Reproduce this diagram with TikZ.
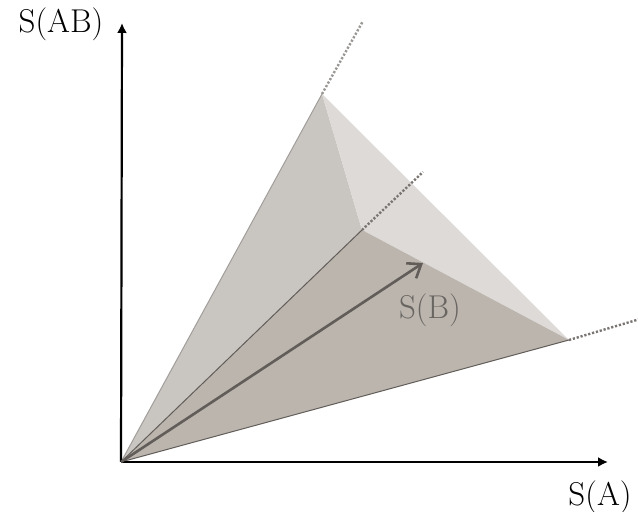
\documentclass[tikz,border=0pt]{standalone}
\usepackage{xcolor}
\usepackage{tikz}
\usetikzlibrary{arrows.meta}
\definecolor{faceleft}{RGB}{201,197,193}
\definecolor{facetop}{RGB}{221,218,215}
\definecolor{facelow}{RGB}{187,181,174}
\definecolor{edgegray}{RGB}{98,93,89}
\definecolor{labelgray}{RGB}{105,101,97}

\begin{document}
\begin{tikzpicture}[x=0.5pt,y=-0.5pt,
  axis/.style={-{Latex[length=5pt,width=5pt]},line width=1.1pt,black},
  edge/.style={line width=0.5pt,draw=edgegray},
  ray/.style={dash pattern=on 1.1pt off 0.9pt,line width=1.2pt,draw=edgegray!85},
  vec/.style={-{Straight Barb[length=6pt,width=9pt]},line width=1.3pt,draw=edgegray},
  lbl/.style={font=\fontsize{16.5}{19}\selectfont,inner sep=0pt}]
  \useasboundingbox (0,0) rectangle (638,512);
  % cone corners
  \coordinate (o) at (121,462);
  \coordinate (t) at (322,94);
  \coordinate (m) at (362,230);
  \coordinate (r) at (569,340);
  \coordinate (tx) at (363,21);
  \coordinate (mx) at (423,172);
  \coordinate (rx) at (640,319);
  \coordinate (b) at (423,263);
  % faces
  \fill[faceleft] (o)--(t)--(m)--cycle;
  \fill[facetop] (t)--(r)--(m)--cycle;
  \fill[facelow] (o)--(m)--(r)--cycle;
  \draw[edge,draw=edgegray!60] (o)--(t);
  \draw[edge] (o)--(m);
  \draw[edge] (o)--(r);
  \draw[ray,draw=edgegray!65] (t)--(tx);
  \draw[ray] (m)--(mx);
  \draw[ray] (r)--(rx);
  % axes
  \node[lbl] (sab) at (61,24) {S(AB)};
  \node[lbl] (sa) at (600,497) {S(A)};
  \coordinate (ya) at (122,23);
  \coordinate (xa) at (608,462);
  \draw[axis] (o)--(ya);
  \draw[axis] (o)--(xa);
  \draw[vec] (o)--(b);
  \node[lbl,text=labelgray] (sb) at (430,310) {S(B)};
\end{tikzpicture}
\end{document}
